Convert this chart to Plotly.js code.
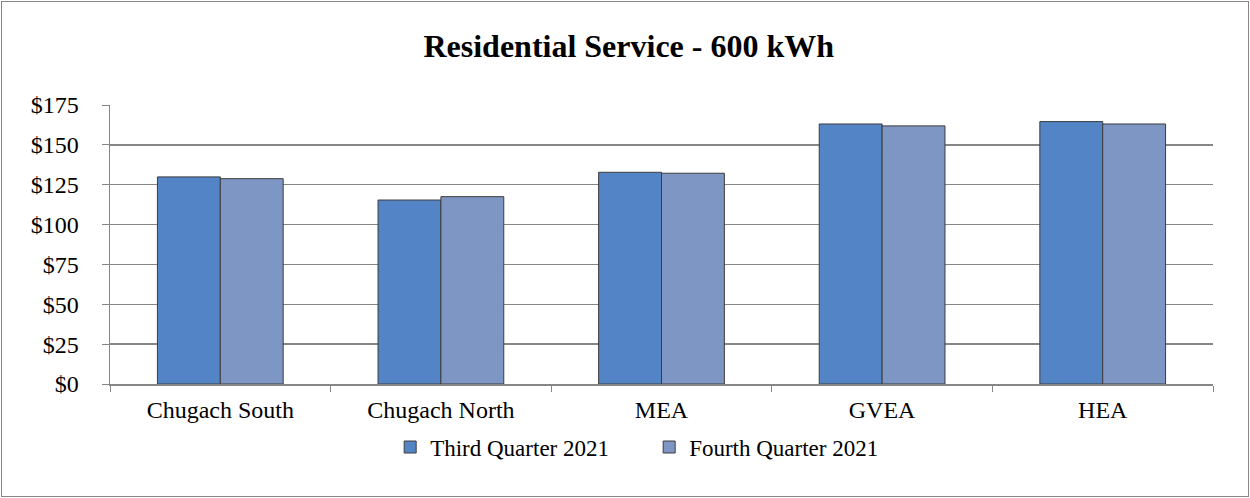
<!DOCTYPE html>
<html>
<head>
<meta charset="utf-8">
<script src="https://cdn.plot.ly/plotly-3.0.1.min.js"></script>
<style>
  html, body { margin: 0; padding: 0; background: #fff; }
  #wrap { position: relative; width: 1250px; height: 498px; }
  #chart { width: 1250px; height: 498px; }
  #frame { position: absolute; left: 1px; top: 1px; width: 1246px; height: 494px; border: 1px solid #868686; pointer-events: none; }
</style>
</head>
<body>
<div id="wrap">
  <div id="chart"></div>
  <div id="frame"></div>
</div>
<script>
const utilities = ['Chugach South', 'Chugach North', 'MEA', 'GVEA', 'HEA'];
const thirdQuarter = [129.9, 115.4, 132.8, 163.1, 164.6];
const fourthQuarter = [128.8, 117.5, 132.2, 161.9, 163.1];
const seriesNames = ['Third Quarter 2021', 'Fourth Quarter 2021'];

const serif = 'Liberation Serif, Times New Roman, serif';
const outline = { color: '#3c3c3c', width: 1 };

const traces = [
  {
    x: utilities, y: thirdQuarter, name: seriesNames[0], type: 'bar',
    marker: { color: '#5385c6', line: outline },
    hoverinfo: 'y'
  },
  {
    x: utilities, y: fourthQuarter, name: seriesNames[1], type: 'bar',
    marker: { color: '#7e96c4', line: outline },
    hoverinfo: 'y'
  }
];

const layout = {
  width: 1250,
  height: 498,
  paper_bgcolor: '#ffffff',
  plot_bgcolor: '#ffffff',
  font: { family: serif, size: 24, color: '#000' },
  title: {
    text: '<b>Residential Service - 600 kWh</b>',
    font: { family: serif, size: 32, color: '#000' },
    x: 0.503, xanchor: 'center', y: 0.908, yanchor: 'middle'
  },
  margin: { l: 110, r: 37, t: 105, b: 114, pad: 0 },
  barmode: 'group',
  bargap: 0.43,
  bargroupgap: 0,
  showlegend: true,
  legend: {
    orientation: 'h', x: 0.254, xanchor: 'left', y: -0.226, yanchor: 'middle',
    font: { family: serif, size: 23, color: '#000' },
    itemwidth: 30, entrywidth: 214, entrywidthmode: 'pixels', traceorder: 'normal'
  },
  xaxis: {
    type: 'category',
    showline: true, linecolor: '#868686', linewidth: 1.5,
    ticks: 'outside', tickson: 'boundaries', ticklen: 6, tickcolor: '#868686',
    ticklabelstandoff: 4,
    showgrid: false,
    tickfont: { family: serif, size: 24 }
  },
  yaxis: {
    range: [0, 175], dtick: 25, tickprefix: '$',
    showline: true, linecolor: '#868686', linewidth: 1.5,
    ticks: 'outside', ticklen: 7, tickcolor: '#868686',
    ticklabelstandoff: 18,
    showgrid: true, gridcolor: '#868686', gridwidth: 1.5,
    zeroline: false,
    tickfont: { family: serif, size: 24 }
  }
};

Plotly.newPlot('chart', traces, layout, { displayModeBar: false, staticPlot: true });
</script>
</body>
</html>
